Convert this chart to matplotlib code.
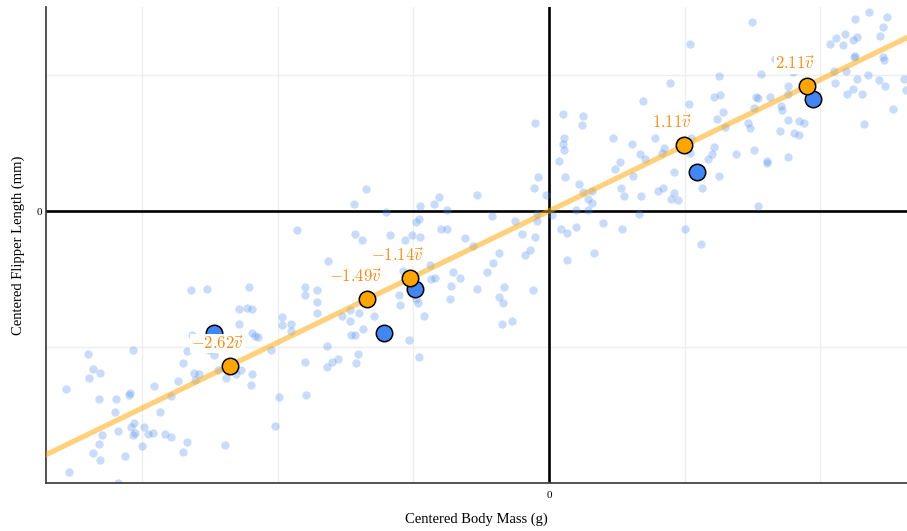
import numpy as np
import matplotlib
matplotlib.use("Agg")
from matplotlib import pyplot as plt
from matplotlib.ticker import FixedLocator, FuncFormatter

left_x = [-1.63, -2.64, -2.52, -2.21, -1.80, -1.71, -1.80, -1.71, -2.29, -2.23,
          -2.19, -1.71, -1.97, -2.29, -1.90, -1.97, -2.19, -2.17, -2.15, -1.90,
          -2.63, -3.40, -3.07, -2.67, -2.51, -2.47, -2.05, -1.64, -3.36, -3.31,
          -3.39, -2.70, -2.62, -2.58, -2.44, -2.27, -2.31, -2.19, -2.38, -2.20,
          -1.80, -1.64, -1.60, -3.56, -2.91, -2.74, -2.61, -3.09, -3.10, -3.32,
          -3.19, -2.79, -1.99, -1.79, -3.20, -2.87, -3.06, -3.08, -2.99, -3.05,
          -3.18, -3.07, -2.96, -2.92, -2.83, -2.79, -3.30, -3.32, -3.00, -2.67,
          -2.39, -2.02, -3.36, -3.31, -3.13, -2.70, -3.54, -3.18, -1.86]
left_y = [-0.37, -0.58, -0.57, -0.56, -0.56, -0.58, -0.62, -0.67, -0.72, -0.71,
          -0.72, -0.75, -0.78, -0.83, -0.83, -0.84, -0.90, -0.92, -0.93, -0.88,
          -0.91, -1.05, -1.02, -1.03, -1.02, -1.06, -1.02, -0.99, -1.16, -1.19,
          -1.23, -1.12, -1.19, -1.20, -1.17, -1.17, -1.20, -1.20, -1.23, -1.28,
          -1.11, -1.15, -1.11, -1.31, -1.29, -1.25, -1.24, -1.34, -1.35, -1.38,
          -1.38, -1.36, -1.37, -1.35, -1.48, -1.48, -1.56, -1.59, -1.59, -1.63,
          -1.62, -1.65, -1.64, -1.63, -1.64, -1.66, -1.65, -1.71, -1.73, -1.70,
          -1.72, -1.58, -1.78, -1.83, -1.80, -1.77, -1.92, -2.00, -0.14]

mid_x = [0.07, -0.08, 0.12, 0.49, 0.52, -1.35, -0.53, -0.11, -0.02, 0.22,
         0.25, 0.32, 0.29, 0.32, 0.53, 0.55, -0.81, -0.85, -0.95, -0.75,
         -1.44, -1.20, -0.42, -0.25, -0.09, 0.02, 0.20, 0.29, -0.98, -0.96,
         -0.09, 0.09, 0.13, 0.20, 0.40, 0.54, -1.43, -1.38, -1.17, -1.06,
         -1.01, -0.95, -0.80, -0.75, -0.62, -0.56, -0.20, -0.10, -0.37, -0.41,
         -0.18, -0.14, 0.13, 0.33, -0.88, -0.71, -0.66, -0.72, -0.84, -0.87,
         -0.46, -0.53, -0.33, -0.37, -0.34, -0.12, -1.11, -1.10, -0.98, -0.97,
         -0.92, -1.53, -1.47, -1.40, -1.47, -1.29, -1.37, -1.46, -1.43, -1.03,
         -1.56, -1.41, -1.42, -0.96, -0.35, -0.27, -1.08, -0.73,
         -0.10, 0.10, 0.25, 0.24, 0.11, 0.10, 0.11, 0.47]
mid_y = [0.37, 0.25, 0.25, 0.31, 0.36, 0.16, 0.12, 0.17, 0.12, 0.20,
         0.14, 0.15, 0.09, 0.06, 0.17, 0.11, 0.10, 0.05, 0.04, 0.01,
         0.05, -0.01, -0.04, -0.07, -0.02, -0.03, 0.01, 0.01, -0.08, -0.06,
         -0.07, -0.13, -0.16, -0.12, -0.09, -0.13, -0.17, -0.21, -0.18, -0.21,
         -0.18, -0.19, -0.13, -0.13, -0.20, -0.26, -0.17, -0.19, -0.31, -0.38,
         -0.32, -0.29, -0.36, -0.31, -0.40, -0.45, -0.49, -0.55, -0.49, -0.50,
         -0.45, -0.57, -0.56, -0.63, -0.68, -0.58, -0.62, -0.69, -0.65, -0.68,
         -0.77, -0.77, -0.73, -0.75, -0.81, -0.77, -0.87, -0.91, -0.91, -0.95,
         -1.09, -1.05, -1.12, -1.07, -0.83, -0.81, -0.44, -0.65,
         0.65, 0.71, 0.70, 0.63, 0.54, 0.49, 0.45, 0.54]

right_x = [1.50, 1.04, 2.36, 2.49, 2.26, 2.46, 2.44, 2.18, 2.12, 2.07,
           2.17, 2.24, 2.27, 2.26, 2.25, 2.46, 2.47, 1.67, 1.56, 1.80,
           2.10, 2.19, 2.27, 2.35, 2.43, 2.48, 2.62, 2.63, 1.25, 0.89,
           0.69, 1.22, 1.26, 1.03, 1.28, 1.24, 1.30, 1.53, 1.54, 1.63,
           1.51, 1.71, 1.72, 1.76, 1.76, 1.47, 1.48, 1.70, 1.76, 1.84,
           1.88, 1.81, 1.84, 2.11, 2.24, 2.20, 2.31, 2.54, 2.32, 0.78,
           0.61, 0.67, 0.71, 0.83, 0.85, 1.05, 1.04, 1.22, 1.20, 1.17,
           1.38, 1.51, 1.61, 1.61, 1.76, 0.92, 0.84, 0.80, 0.92, 0.90,
           0.95, 1.13, 1.25, 0.62, 0.68, 1.54, 0.66, 1.00, 1.12]
right_y = [1.39, 1.23, 1.46, 1.43, 1.41, 1.35, 1.29, 1.30, 1.27, 1.23,
           1.22, 1.26, 1.28, 1.14, 1.13, 1.13, 1.11, 1.12, 1.01, 1.02,
           1.03, 1.03, 0.97, 1.00, 0.96, 0.92, 0.97, 0.89, 0.99, 0.94,
           0.81, 0.84, 0.85, 0.79, 0.73, 0.68, 0.62, 0.84, 0.83, 0.84,
           0.76, 0.77, 0.74, 0.92, 0.86, 0.65, 0.61, 0.59, 0.67, 0.66,
           0.65, 0.57, 0.56, 0.94, 0.90, 0.86, 0.86, 0.75, 0.64, 0.54,
           0.49, 0.42, 0.38, 0.43, 0.46, 0.54, 0.43, 0.47, 0.42, 0.38,
           0.42, 0.45, 0.37, 0.35, 0.40, 0.29, 0.17, 0.15, 0.13, 0.09,
           0.08, 0.17, 0.26, 0.26, 0.11, 0.04, -0.02, -0.13, -0.24]

# highlighted points and the direction they get projected on
sel_x = [-2.47, -1.22, -0.99, 1.09, 1.95]
sel_y = [-0.90, -0.90, -0.57, 0.29, 0.82]
v_angle = 25.78  # degrees

xlim = (-3.71, 2.64)
ylim = (-2.0, 1.5)

plt.rcParams["font.family"] = "Liberation Serif"
plt.rcParams["mathtext.fontset"] = "cm"

bg_x = np.array(left_x + mid_x + right_x)
bg_y = np.array(left_y + mid_y + right_y)
v = np.array([np.cos(np.radians(v_angle)), np.sin(np.radians(v_angle))])
coef = np.array(sel_x) * v[0] + np.array(sel_y) * v[1]
proj_x = coef * v[0]
proj_y = coef * v[1]

fig = plt.figure(figsize=(9.07, 5.31), dpi=100)
ax = fig.add_axes([0.0507, 0.0904, 0.9493, 0.8964])

ax.axhline(0, color="black", lw=1.9, zorder=1)
ax.axvline(0, color="black", lw=1.9, zorder=1)

ax.scatter(bg_x, bg_y, s=36, color="#4a8cf0", alpha=0.3, lw=0, zorder=2)

t = np.array([xlim[0] - 1, xlim[1] + 1])
ax.plot(t * v[0], t * v[1], color="#ffa500", alpha=0.5, lw=3.8,
        solid_capstyle="butt", zorder=3)

ax.scatter(sel_x, sel_y, s=140, color="#4285f4", edgecolor="black", lw=1.1, zorder=4)
ax.scatter(proj_x, proj_y, s=140, color="#ffa500", edgecolor="black", lw=1.1, zorder=5)

for c, px, py in zip(coef, proj_x, proj_y):
    txt = "$%.2f\\vec{v}$" % c
    ax.annotate(txt, xy=(px, py), xytext=(-8.6, 15.8), textcoords="offset points",
                ha="center", va="center", fontsize=12, color="#f28c1a", zorder=6,
                bbox=dict(boxstyle="square,pad=0.05", fc="white", ec="none"))

ax.set_xlim(*xlim)
ax.set_ylim(*ylim)
ax.xaxis.set_major_locator(FixedLocator([-3, -2, -1, 0, 1, 2]))
ax.yaxis.set_major_locator(FixedLocator([-1, 0, 1]))
zero_only = FuncFormatter(lambda val, pos: "0" if abs(val) < 1e-9 else "")
ax.xaxis.set_major_formatter(zero_only)
ax.yaxis.set_major_formatter(zero_only)
ax.tick_params(length=0, labelsize=8)
ax.tick_params(axis="x", pad=6)
ax.tick_params(axis="y", pad=3)
ax.grid(True, color="#eeeeee", lw=1.0, zorder=0)
ax.set_axisbelow(True)

for side in ["top", "right"]:
    ax.spines[side].set_visible(False)
for side in ["left", "bottom"]:
    ax.spines[side].set_color("#444444")
    ax.spines[side].set_linewidth(1.3)

ax.set_xlabel("Centered Body Mass (g)", fontsize=10.5, labelpad=9)
ax.set_ylabel("Centered Flipper Length (mm)", fontsize=10.5, labelpad=8)

fig.savefig("out.png", dpi=100)
